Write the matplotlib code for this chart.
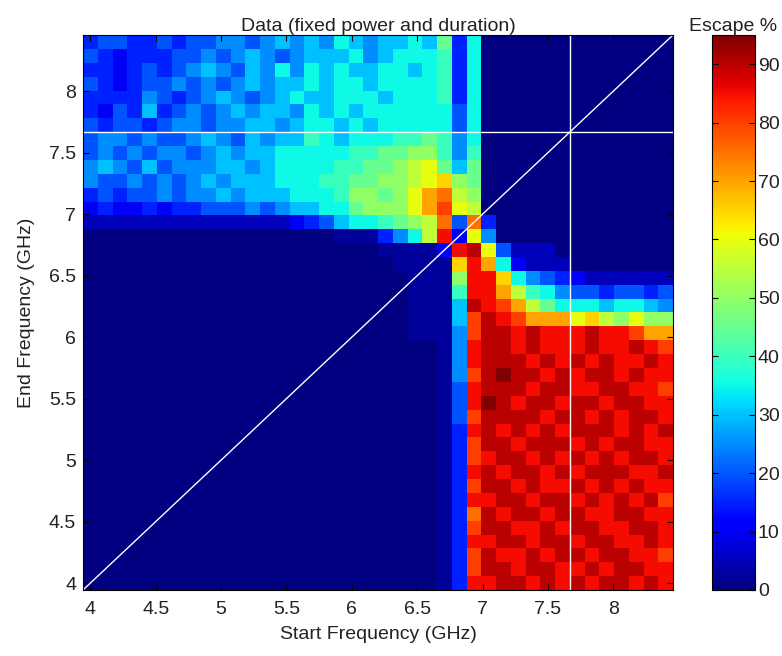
import numpy as np
import matplotlib.pyplot as plt

plt.rcParams['font.family'] = ['Liberation Sans', 'DejaVu Sans']

# Frequency grid (GHz), cell centres
start_freq = np.linspace(4.0, 8.4, 40)
end_freq = np.linspace(4.0, 8.4, 40)

# Escape %. One letter per cell, a=0, b=5, ... t=95, '-'=2.5
# first string is the top row (end freq 8.4 GHz), first letter is start freq 4.0 GHz
escape_rows = [
    "deeddedeeffefgfgfhgfgghg" + "jdh" + "a" * 13,
    "edcdddeefefgfefggghfghhh" + "idh" + "a" * 13,
    "ddcdedefgfegfhfhghgghhgh" + "idh" + "a" * 13,
    "edcdeefefefgfgghghhghhhh" + "idh" + "a" * 13,
    "ddddfedefgfefghgghhhghhh" + "idh" + "a" * 13,
    "dcedgdefefgfggfhghghhhhh" + "heh" + "a" * 13,
    "edeedeffeffggfghhghghhhh" + "heh" + "a" * 13,
    "effefeefgfegfggihghhhiij" + "ifh" + "a" * 13,
    "efefeffefgfgghhhhhiijjkk" + "ifi" + "a" * 13,
    "fgfegefffggfghhhhiijjklm" + "jgj" + "a" * 13,
    "feefefefgfggghhhiijjkklm" + "nkj" + "a" * 13,
    "dedeefeffgfggghhhikkjkmo" + "plk" + "a" * 13,
    "cdccdcddeeefefgghhjkkkmo" + "qml" + "a" * 13,
    "bbbbbbbbbbbbbbcd" + "eghhijkl" + "pep" + "d" + "a" * 12,
    "a" * 17 + "---" + "dfhlrcmf" + "a" * 12,
    "a" * 20 + "----" + "c" + "rsme" + "bbb" + "a" * 8,
    "a" * 21 + "----" + "nrohc" + "bbb" + "a" * 7,
    "a" * 22 + "---" + "krrnhfedc" + "b" * 6,
    "a" * 22 + "---" + "irrolihfeedeede",
    "a" * 22 + "---" + "gsrqoljhhhghhgf",
    "a" * 22 + "---" + "gqsrqooomnlkmkk",
    "a" * 22 + "---" + "fqssrsrrrsrrqoo",
    "a" * 24 + "-" + "f" + "r" + "ssrsrrrsrrsrq",
    "a" * 24 + "-" + "f" + "r" + "sssrsrsrsrrsr",
    "a" * 24 + "-" + "f" + "q" + "stssrsrssrsrr",
    "a" * 24 + "-" + "e" + "r" + "sssrssrrssrrq",
    "a" * 24 + "-" + "e" + "r" + "tsrssrssrssrr",
    "a" * 24 + "-" + "e" + "q" + "ssssrssrsrssr",
    "a" * 24 + "-" + "d" + "r" + "srsrsrsssrsrs",
    "a" * 24 + "-" + "d" + "q" + "ssrsssrsrssrr",
    "a" * 24 + "-" + "d" + "q" + "rssrsrsrsrssr",
    "a" * 24 + "-" + "d" + "r" + "srssrsrsssrrs",
    "a" * 24 + "-" + "d" + "q" + "ssrsrrsrsrsrr",
    "a" * 24 + "-" + "d" + "r" + "rssrssrsrsrsq",
    "a" * 24 + "-" + "d" + "p" + "srssrssrrssrr",
    "a" * 24 + "-" + "d" + "q" + "ssrrsrssrrssr",
    "a" * 24 + "-" + "d" + "r" + "rssrssrssrrsr",
    "a" * 24 + "-" + "d" + "q" + "srrsrssrssrrq",
    "a" * 24 + "-" + "d" + "q" + "ssrssrrsrssrr",
    "a" * 24 + "-" + "d" + "r" + "rssrsrsrssrsr",
]

marker_freq = 7.67  # crosshair
tick_vals = [4, 4.5, 5, 5.5, 6, 6.5, 7, 7.5, 8]
tick_labels = ['4', '4.5', '5', '5.5', '6', '6.5', '7', '7.5', '8']
cbar_ticks = [0, 10, 20, 30, 40, 50, 60, 70, 80, 90]

level = {c: 5.0 * i for i, c in enumerate("abcdefghijklmnopqrst")}
level['-'] = 2.5
escape = np.array([[level[c] for c in r] for r in escape_rows])[::-1]

step = start_freq[1] - start_freq[0]
x_edges = np.append(start_freq - step / 2, start_freq[-1] + step / 2)
y_edges = np.append(end_freq - step / 2, end_freq[-1] + step / 2)

fig = plt.figure(figsize=(7.82, 6.56), dpi=100)
ax = fig.add_axes([83 / 782, 66 / 656, 590 / 782, 555 / 656])
cax = fig.add_axes([712 / 782, 66 / 656, 43 / 782, 555 / 656])

mesh = ax.pcolormesh(x_edges, y_edges, escape, cmap='jet', vmin=0, vmax=95)

ax.plot([x_edges[0], x_edges[-1]], [y_edges[0], y_edges[-1]], color='white', lw=1)
ax.axhline(marker_freq, color='white', lw=1)
ax.axvline(marker_freq, color='white', lw=1)
ax.set_xlim(x_edges[0], x_edges[-1])
ax.set_ylim(y_edges[0], y_edges[-1])

ax.set_xticks(tick_vals)
ax.set_xticklabels(tick_labels)
ax.set_yticks(tick_vals)
ax.set_yticklabels(tick_labels)
ax.tick_params(direction='in', length=4, top=True, right=True, labelsize=14, labelcolor='#222222')
ax.tick_params(axis='x', pad=8)
ax.tick_params(axis='y', pad=5)

ax.set_xlabel('Start Frequency (GHz)', fontsize=14, color='#222222', labelpad=6)
ax.set_ylabel('End Frequency (GHz)', fontsize=14, color='#222222', labelpad=10)
ax.set_title('Data (fixed power and duration)', fontsize=14, color='#222222', pad=3)

cb = fig.colorbar(mesh, cax=cax)
cb.set_ticks(cbar_ticks)
cb.outline.set_linewidth(0.8)
cax.tick_params(direction='in', length=4, left=True, right=True, labelsize=14, labelcolor='#222222', pad=2)
cax.set_title('Escape %', fontsize=14, color='#222222', pad=3)

fig.savefig('out.png', dpi=100)
